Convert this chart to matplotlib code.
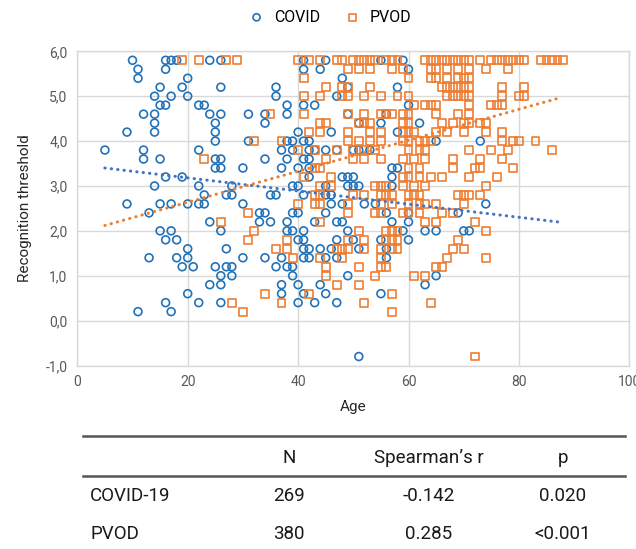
import matplotlib
matplotlib.use("Agg")
import matplotlib.pyplot as plt
from matplotlib.lines import Line2D
import numpy as np

plt.rcParams['font.family'] = ['Roboto', 'DejaVu Sans']

# threshold levels (y) and the ages found at each level
levels = [5.8, 5.6, 5.4, 5.2, 5.0, 4.8, 4.6, 4.4, 4.2, 4.0, 3.8, 3.6, 3.4, 3.2, 3.0,
          2.8, 2.6, 2.4, 2.2, 2.0, 1.8, 1.6, 1.4, 1.2, 1.0, 0.8, 0.6, 0.4, 0.2, -0.8]

covid_ages = [
    [10, 16, 17, 18, 24, 26, 41, 45, 55, 59],
    [11, 16, 41, 44, 60],
    [11, 20, 48],
    [15, 19, 26, 36, 49, 58],
    [14, 17, 20, 36, 47],
    [15, 16, 22, 23, 38, 41, 43, 60],
    [12, 14, 24, 26, 31, 34, 38, 49, 56],
    [14, 25, 34, 51, 55, 62],
    [9, 14, 25, 40, 46, 58],
    [25, 31, 38, 39, 41, 42, 65, 73],
    [5, 12, 22, 37, 39, 42, 43, 45, 47, 50, 51, 53],
    [12, 15, 25, 26, 34, 38, 41, 42],
    [25, 26, 30, 37, 40, 42, 57, 58],
    [16, 19, 42, 48, 49, 50, 57],
    [14, 22, 28, 39, 40, 45, 49, 50, 51, 57],
    [23, 27, 28, 35, 36, 41, 45, 46],
    [9, 15, 17, 20, 22, 23, 30, 46, 48, 52, 54, 74],
    [13, 33, 34, 39, 40, 45, 56, 60, 69],
    [24, 33, 35, 38, 43, 47, 48, 57, 60],
    [15, 17, 26, 38, 39, 41, 49, 59, 63, 65, 70, 71],
    [16, 18, 40, 41, 47, 50, 55, 60],
    [20, 27, 41, 42, 44, 46, 51, 56],
    [13, 18, 20, 30, 34, 37, 41, 42, 45, 47, 56],
    [19, 21, 25, 27, 28, 36, 38, 39],
    [26, 28, 39, 49, 65],
    [24, 26, 37, 40, 44, 63],
    [20, 37, 41, 45, 55],
    [16, 22, 26, 40, 43, 47],
    [11, 17],
    [51],
]

pvod_ages = [
    [19, 22, 27, 29, 40, 42, 44, 47, 48, 50, 51, 52, 53, 54, 56, 57, 58, 63, 64, 65,
     66, 67, 68, 69, 70, 71, 73, 75, 76, 77, 78, 79, 80, 81, 84, 85, 86, 87, 88],
    [49, 51, 53, 57, 59, 64, 65, 67, 69, 71, 74, 78],
    [41, 60, 64, 65, 67, 69, 70, 71],
    [45, 48, 49, 53, 66, 67, 68, 69, 70, 71, 77, 81],
    [41, 44, 48, 49, 52, 55, 58, 60, 67, 68, 69, 70, 71, 77, 80, 81],
    [61, 63, 64, 65, 71, 75, 76, 77],
    [35, 41, 49, 52, 55, 56, 57, 59, 60, 65, 69, 71],
    [44, 45, 51, 52, 53, 59, 60, 66, 68, 70, 71, 73, 74],
    [42, 44, 49, 53, 55, 59, 60, 61, 65, 67, 70, 74, 77],
    [32, 37, 49, 51, 53, 55, 59, 60, 62, 63, 64, 77, 79, 80, 83],
    [40, 43, 47, 50, 52, 54, 60, 62, 63, 71, 75, 78, 86],
    [23, 45, 50, 52, 55, 59, 61, 63, 68, 73, 77],
    [43, 44, 60, 62, 68, 72, 73, 79],
    [41, 46, 59, 60, 62, 64, 66, 71, 76],
    [44, 46, 54, 55, 56, 59, 61, 63, 74],
    [43, 44, 50, 52, 55, 56, 57, 60, 61, 62, 69, 70, 71, 73],
    [40, 43, 44, 49, 55, 57, 60, 62, 63, 65, 70],
    [31, 49, 54, 55, 59, 60, 62, 66, 68],
    [26, 44, 63, 65, 72],
    [32, 51, 56, 57, 58, 74],
    [31, 38, 49, 52, 56, 57, 58, 69],
    [36, 38, 47, 48, 49, 52, 55, 57, 58, 68, 70],
    [39, 44, 48, 55, 67, 74],
    [45, 51, 55, 56, 65, 66],
    [45, 54, 61, 63],
    [47, 51],
    [34, 42, 57],
    [28, 37, 52, 64],
    [30, 57],
    [72],
]

# linear trend lines (start/end points)
covid_trend_x = [5, 87]
covid_trend_y = [3.40, 2.20]
pvod_trend_x = [5, 87.6]
pvod_trend_y = [2.12, 4.97]

# table
table_cols = ["N", "Spearman\u2019s r", "p"]
table_rows = ["COVID-19", "PVOD"]
table_n = ["269", "380"]
table_r = ["-0.142", "0.285"]
table_p = ["0.020", "<0.001"]

x_ticks = [0, 20, 40, 60, 80, 100]
y_ticks = [-1, 0, 1, 2, 3, 4, 5, 6]

blue = "#2272B9"
orange = "#ED7D31"


def flatten(ages_by_level):
    xs, ys = [], []
    for lev, ages in zip(levels, ages_by_level):
        xs += ages
        ys += [lev] * len(ages)
    return np.array(xs, float), np.array(ys, float)


cx, cy = flatten(covid_ages)
px, py = flatten(pvod_ages)

W, H = 636, 549
fig = plt.figure(figsize=(W / 100, H / 100), dpi=100)
ax = fig.add_axes([77.3 / W, 1 - 365.5 / H, 552 / W, 314.2 / H])

sc1 = ax.scatter(cx, cy, s=32, marker='o', facecolors='none', edgecolors=blue,
                 linewidths=1.2, zorder=3)
sc2 = ax.scatter(px, py, s=32, marker='s', facecolors='none', edgecolors=orange,
                 linewidths=1.2, zorder=3)

ax.plot(covid_trend_x, covid_trend_y, color="#4472C4", lw=2.2,
        linestyle=(0, (0.1, 2.0)), dash_capstyle='round', zorder=4)
ax.plot(pvod_trend_x, pvod_trend_y, color=orange, lw=2.2,
        linestyle=(0, (0.1, 2.0)), dash_capstyle='round', zorder=4)

ax.set_xlim(0, 100)
ax.set_ylim(-1, 6)
ax.set_xticks(x_ticks)
ax.set_yticks(y_ticks)
ax.set_yticklabels([f"{v:.1f}".replace(".", ",") for v in y_ticks])
ax.tick_params(length=0, labelsize=10, labelcolor="#595959", pad=7)
ax.grid(True, color="#d9d9d9", lw=1.0)
ax.set_axisbelow(True)
for s in ax.spines.values():
    s.set_color("#d9d9d9")
    s.set_linewidth(1.0)

ax.set_xlabel("Age", fontsize=11, color="#262626", labelpad=8)
ax.set_ylabel("Recognition threshold", fontsize=11, color="#262626", labelpad=10)

fig.legend([sc1, sc2], ["COVID", "PVOD"], loc='center', ncol=2, frameon=False,
           bbox_to_anchor=(326 / W, 1 - 17 / H), fontsize=11.5, handletextpad=0.1,
           columnspacing=1.0, markerscale=0.9)

# table below the chart
def fy(y):
    return 1 - y / H

for yl in (436, 476):
    fig.add_artist(Line2D([83 / W, 625 / W], [fy(yl), fy(yl)], color="#555555", lw=1.8))

col_x = [289, 429, 563]
for x, t in zip(col_x, table_cols):
    fig.text(x / W, fy(458), t, ha='center', va='center', fontsize=13.5, color="#1a1a1a")
for i, (name, n, r, p) in enumerate(zip(table_rows, table_n, table_r, table_p)):
    y = fy(496 + 38 * i)
    fig.text(90 / W, y, name, ha='left', va='center', fontsize=13.5, color="#1a1a1a")
    for x, t in zip(col_x, (n, r, p)):
        fig.text(x / W, y, t, ha='center', va='center', fontsize=13.5, color="#1a1a1a")

fig.savefig("out.png", dpi=100)
